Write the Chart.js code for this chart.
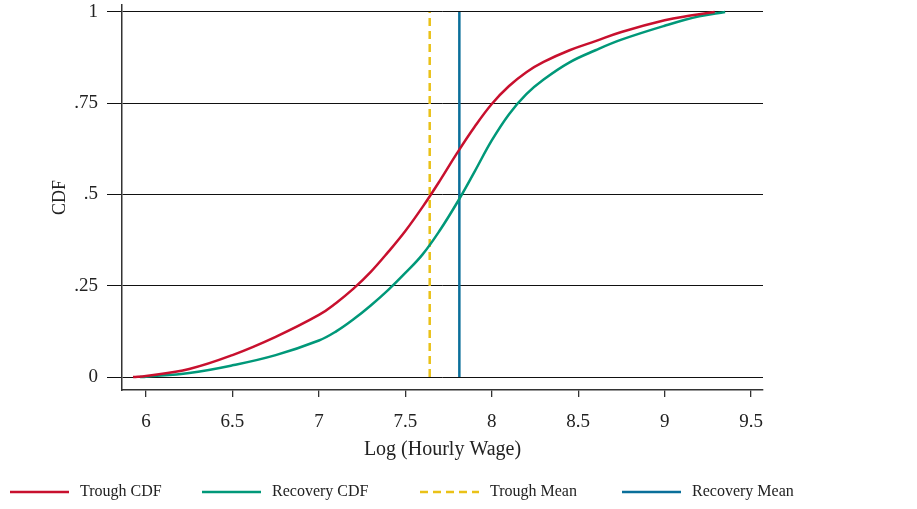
<!DOCTYPE html>
<html>
<head>
<meta charset="utf-8">
<title>CDF of Log Hourly Wage</title>
<script src="https://cdn.jsdelivr.net/npm/chart.js@4.4.1/dist/chart.umd.min.js"></script>
<style>
  html, body { margin: 0; padding: 0; background: #fff; }
  #wrap { width: 917px; height: 509px; position: relative; }
</style>
</head>
<body>
<div id="wrap"><canvas id="cdf"></canvas></div>
<script>
// values
const troughX = [5.925, 6.0, 6.25, 6.5, 6.75, 7.0, 7.1, 7.2, 7.3, 7.4, 7.5, 7.6, 7.7, 7.8, 7.9, 8.0, 8.1, 8.2, 8.3, 8.45, 8.6, 8.75, 9.0, 9.15, 9.29];
const troughY = [0, 0.003, 0.022, 0.06, 0.11, 0.17, 0.203, 0.242, 0.288, 0.342, 0.4, 0.466, 0.538, 0.614, 0.685, 0.748, 0.797, 0.835, 0.863, 0.895, 0.92, 0.945, 0.977, 0.99, 1];

const recoveryX = [5.965, 6.0, 6.25, 6.5, 6.75, 7.0, 7.1, 7.2, 7.3, 7.4, 7.5, 7.6, 7.7, 7.8, 7.9, 8.0, 8.1, 8.2, 8.3, 8.45, 8.6, 8.75, 9.0, 9.2, 9.35];
const recoveryY = [0, 0.001, 0.011, 0.032, 0.06, 0.1, 0.125, 0.158, 0.196, 0.238, 0.285, 0.336, 0.402, 0.478, 0.562, 0.648, 0.72, 0.775, 0.815, 0.862, 0.895, 0.924, 0.962, 0.988, 1];

const troughMean = 7.641;
const recoveryMean = 7.8125;

const xTicks = [6, 6.5, 7, 7.5, 8, 8.5, 9, 9.5];
const yTicks = [0, 0.25, 0.5, 0.75, 1];
const yLabels = ['0', '.25', '.5', '.75', '1'];

const FONT = '"Liberation Serif", "Times New Roman", serif';

function pts(xs, ys) {
  return xs.map((x, i) => ({ x: x, y: ys[i] }));
}

// legend along the bottom, laid out like the Stata one
const bottomLegend = {
  id: 'bottomLegend',
  afterDraw(chart) {
    const ctx = chart.ctx;
    const y = 492;
    const starts = [10, 202, 420, 622];
    ctx.save();
    ctx.font = '16px ' + FONT;
    ctx.textBaseline = 'middle';
    chart.data.datasets.forEach((ds, i) => {
      const x = starts[i];
      ctx.strokeStyle = ds.borderColor;
      ctx.lineWidth = 2.5;
      ctx.setLineDash(ds.borderDash || []);
      ctx.beginPath();
      ctx.moveTo(x, y);
      ctx.lineTo(x + 59, y);
      ctx.stroke();
      ctx.setLineDash([]);
      ctx.fillStyle = '#222';
      ctx.fillText(ds.label, x + 70, y);
    });
    ctx.restore();
  }
};

new Chart(document.getElementById('cdf'), {
  type: 'line',
  data: {
    datasets: [
      {
        label: 'Trough CDF',
        data: pts(troughX, troughY),
        borderColor: '#c8102e',
        borderWidth: 2.5,
        tension: 0.4,
        pointRadius: 0
      },
      {
        label: 'Recovery CDF',
        data: pts(recoveryX, recoveryY),
        borderColor: '#009879',
        borderWidth: 2.5,
        tension: 0.4,
        pointRadius: 0
      },
      {
        label: 'Trough Mean',
        data: [{ x: troughMean, y: 0 }, { x: troughMean, y: 1 }],
        borderColor: '#eac117',
        borderWidth: 2.5,
        borderDash: [8, 5],
        pointRadius: 0
      },
      {
        label: 'Recovery Mean',
        data: [{ x: recoveryMean, y: 0 }, { x: recoveryMean, y: 1 }],
        borderColor: '#0a6f9a',
        borderWidth: 2.5,
        pointRadius: 0
      }
    ]
  },
  options: {
    responsive: true,
    maintainAspectRatio: false,
    animation: false,
    layout: { padding: { left: 0, right: 154, top: 5, bottom: 44 } },
    plugins: {
      legend: { display: false },
      tooltip: { enabled: false }
    },
    scales: {
      x: {
        type: 'linear',
        min: 5.861,
        max: 9.569,
        afterBuildTicks: s => { s.ticks = xTicks.map(v => ({ value: v })); },
        afterFit: s => { s.height = 75; s.paddingLeft = 0; s.paddingRight = 0; },
        ticks: {
          color: '#222',
          padding: 14,
          maxRotation: 0,
          font: { family: FONT, size: 19 },
          callback: v => String(v)
        },
        grid: { drawOnChartArea: false, drawTicks: true, tickLength: 7, color: '#333', lineWidth: 1.3 },
        border: { display: true, color: '#333', width: 1.5 },
        title: {
          display: true,
          text: 'Log (Hourly Wage)',
          color: '#222',
          font: { family: FONT, size: 20 },
          padding: { top: 0, bottom: 3 }
        }
      },
      y: {
        type: 'linear',
        min: -0.0356,
        max: 1.019,
        afterBuildTicks: s => { s.ticks = yTicks.map(v => ({ value: v })); },
        afterFit: s => { s.width = 122; s.paddingTop = 0; s.paddingBottom = 0; },
        ticks: {
          color: '#222',
          padding: 9,
          font: { family: FONT, size: 19 },
          callback: v => yLabels[yTicks.indexOf(v)]
        },
        grid: { color: '#111', lineWidth: 1, tickLength: 15, drawTicks: true },
        border: { display: true, color: '#333', width: 1.5 },
        title: {
          display: true,
          text: 'CDF',
          color: '#222',
          font: { family: FONT, size: 18 },
          padding: { top: 49, bottom: 0 }
        }
      }
    }
  },
  plugins: [bottomLegend]
});
</script>
</body>
</html>
